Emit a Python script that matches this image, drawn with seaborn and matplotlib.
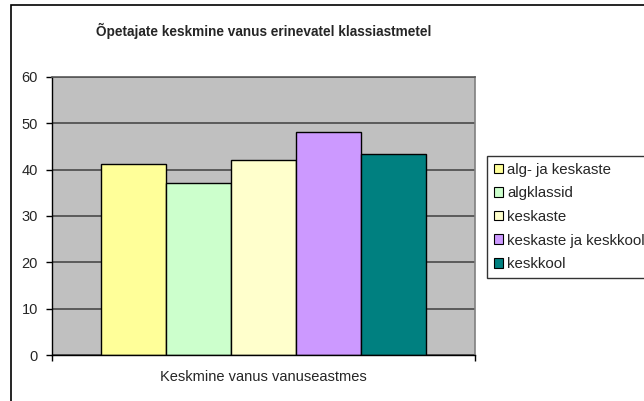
import matplotlib
matplotlib.use("Agg")
import matplotlib.pyplot as plt
import matplotlib.patches as mpatches
import seaborn as sns
import pandas as pd

# chart data
category = "Keskmine vanus vanuseastmes"
levels = ["alg- ja keskaste", "algklassid", "keskaste", "keskaste ja keskkool", "keskkool"]
ages = [41.2, 37.2, 42.0, 48.2, 43.4]
colors = ["#FFFF99", "#CCFFCC", "#FFFFCC", "#CC99FF", "#008080"]
y_ticks = [0, 10, 20, 30, 40, 50, 60]

sns.set_style("white")
plt.rcParams["font.family"] = ["Liberation Sans", "DejaVu Sans"]

df = pd.DataFrame({"grupp": [category] * len(levels), "tase": levels, "vanus": ages})

fig = plt.figure(figsize=(6.44, 4.01), dpi=100)
ax = fig.add_axes([0.0807, 0.1147, 0.6569, 0.6933])
ax.set_facecolor("#C0C0C0")

sns.barplot(data=df, x="grupp", y="vanus", hue="tase", hue_order=levels,
            palette=colors, width=0.766, gap=0, edgecolor="black", linewidth=1,
            saturation=1, errorbar=None, legend=False, ax=ax)

ax.set_ylim(0, 60)
ax.set_xlim(-0.5, 0.5)
ax.set_yticks(y_ticks)
ax.set_yticklabels([str(t) for t in y_ticks], fontsize=10.5)
ax.yaxis.grid(True, color="#4a4a4a", linewidth=1.2)
ax.set_axisbelow(True)
ax.set_xticks([-0.5, 0.5])
ax.set_xticklabels(["", ""])
ax.tick_params(axis="y", direction="out", length=4, width=1, color="black", left=True, pad=6)
ax.tick_params(axis="x", direction="out", length=4, width=1, color="black", bottom=True)
ax.set_xlabel(category, fontsize=10.5, labelpad=3)
ax.set_ylabel("")

for side in ["left", "bottom"]:
    ax.spines[side].set_color("black")
    ax.spines[side].set_linewidth(1)
ax.spines["top"].set_color("#5a5a5a")
ax.spines["top"].set_linewidth(1.2)
ax.spines["right"].set_color("#808080")
ax.spines["right"].set_linewidth(1.2)

ax.set_title("Õpetajate keskmine vanus erinevatel klassiastmetel",
             fontsize=9.8, fontweight="bold", pad=29.5)

handles = [mpatches.Patch(facecolor=c, edgecolor="black", linewidth=0.8) for c in colors]
leg = fig.legend(handles, levels, loc="upper left", bbox_to_anchor=(0.756, 0.611),
                 bbox_transform=fig.transFigure, fontsize=10.8, frameon=True, fancybox=False,
                 handlelength=0.6, handleheight=0.6, handletextpad=0.3, labelspacing=0.64,
                 borderaxespad=0, borderpad=0.45)
leg.get_frame().set_edgecolor("black")
leg.get_frame().set_linewidth(1)

# chart area border (only left and top edges visible in the original crop)
fig.patches.append(mpatches.Rectangle((11 / 644, -0.1), 2, 1 - 4.5 / 401 + 0.1,
                                      transform=fig.transFigure, fill=False,
                                      edgecolor="black", linewidth=1.2))

fig.savefig("out.png", dpi=100)
plt.close(fig)
